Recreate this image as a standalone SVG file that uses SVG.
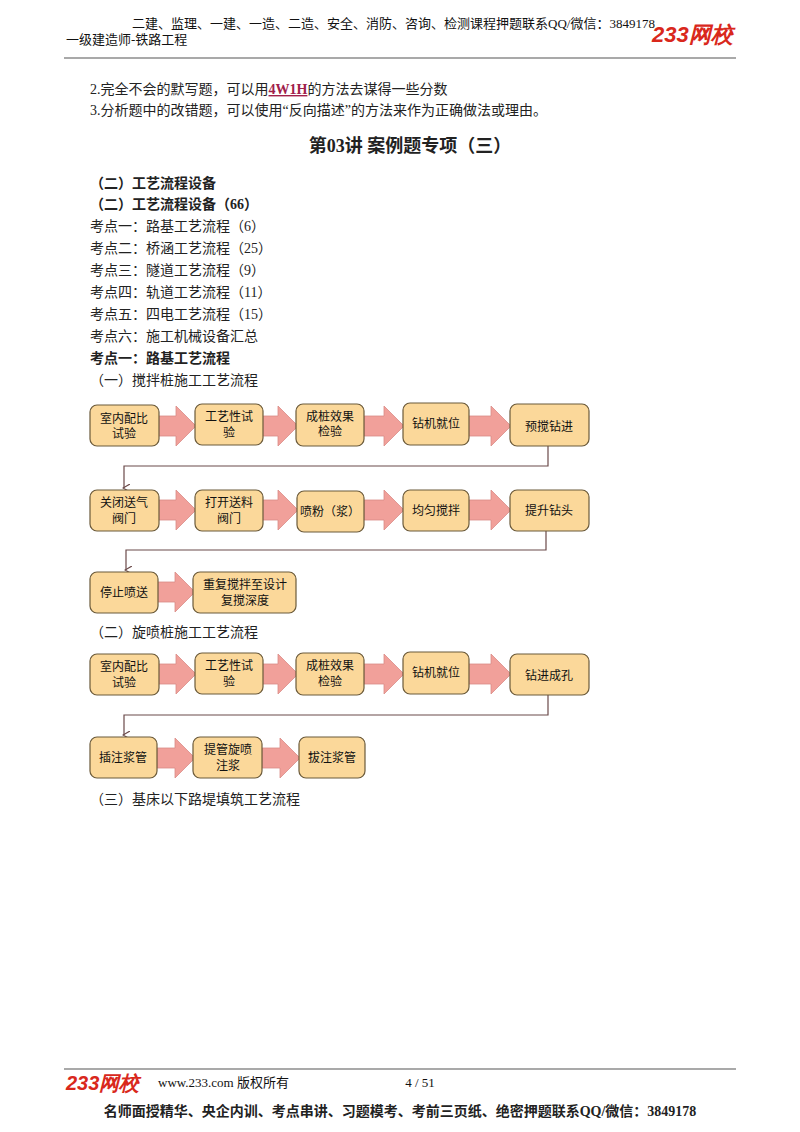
<svg xmlns="http://www.w3.org/2000/svg" width="800" height="1132" viewBox="0 0 800 1132">
<style>
.t{font-family:"Liberation Serif","Noto Sans CJK SC",serif;font-size:14px;fill:#222}
.h{font-family:"Liberation Serif","Noto Sans CJK SC",serif;font-size:13px;fill:#111}
.b{font-weight:bold}
.box{fill:#fbd89a;stroke:#6b5a3a;stroke-width:1.2}
.bt{font-family:"Liberation Sans","Noto Sans CJK SC",sans-serif;font-size:12px;fill:#111;text-anchor:middle}
.ar{fill:#f1a09a;stroke:#d98c86;stroke-width:0.8}
.cn{fill:none;stroke:#6b4a4a;stroke-width:1.2}
</style>
<defs>
<marker id="m" markerWidth="8" markerHeight="8" refX="4" refY="6" orient="auto" markerUnits="userSpaceOnUse"><path d="M0,0 L4,7 L8,0" fill="none" stroke="#6b4a4a" stroke-width="1.2"/></marker>
</defs>
<rect width="800" height="1132" fill="#fff"/>
<text x="132" y="28" class="h">二建、监理、一建、一造、二造、安全、消防、咨询、检测课程押题联系QQ/微信：3849178</text>
<text x="66" y="44" class="h">一级建造师-铁路工程</text>
<text x="652" y="42" font-family="Liberation Sans,sans-serif" font-size="22" font-weight="bold" font-style="italic" fill="#d9281c">233网校</text>
<line x1="64" y1="58" x2="736" y2="58" stroke="#555" stroke-width="1.2"/>
<text x="90" y="94" class="t">2.完全不会的默写题，可以用<tspan fill="#a0204a" text-decoration="underline" font-weight="bold">4W1H</tspan>的方法去谋得一些分数</text>
<text x="90" y="115" class="t">3.分析题中的改错题，可以使用“反向描述”的方法来作为正确做法或理由。</text>
<text x="410" y="152" class="t b" style="font-size:18px" text-anchor="middle">第03讲 案例题专项（三）</text>
<text x="90" y="188" class="t b">（二）工艺流程设备</text>
<text x="90" y="209" class="t b">（二）工艺流程设备（66）</text>
<text x="90" y="231" class="t">考点一：路基工艺流程（6）</text>
<text x="90" y="253" class="t">考点二：桥涵工艺流程（25）</text>
<text x="90" y="275" class="t">考点三：隧道工艺流程（9）</text>
<text x="90" y="297" class="t">考点四：轨道工艺流程（11）</text>
<text x="90" y="319" class="t">考点五：四电工艺流程（15）</text>
<text x="90" y="341" class="t">考点六：施工机械设备汇总</text>
<text x="90" y="363" class="t b">考点一：路基工艺流程</text>
<text x="90" y="385" class="t">（一）搅拌桩施工工艺流程</text>
<g id="connectors">
<path class="ar" d="M158,416 H176 V406 L196,426 L176,446 V436 H158 Z"/>
<path class="ar" d="M262,416 H278 V406 L298,426 L278,446 V436 H262 Z"/>
<path class="ar" d="M364,416 H384 V406 L404,426 L384,446 V436 H364 Z"/>
<path class="ar" d="M468,416 H491 V406 L511,426 L491,446 V436 H468 Z"/>
<path class="cn" d="M548,446 V466 H124 V488" marker-end="url(#m)"/>
<path class="ar" d="M158,500 H176 V490 L196,510 L176,530 V520 H158 Z"/>
<path class="ar" d="M262,500 H278 V490 L298,510 L278,530 V520 H262 Z"/>
<path class="ar" d="M364,500 H384 V490 L404,510 L384,530 V520 H364 Z"/>
<path class="ar" d="M468,500 H491 V490 L511,510 L491,530 V520 H468 Z"/>
<path class="cn" d="M546,531 V550 H126 V570" marker-end="url(#m)"/>
<path class="ar" d="M157,582 H175 V572 L195,592 L175,612 V602 H157 Z"/>
<path class="ar" d="M158,664 H176 V654 L196,674 L176,694 V684 H158 Z"/>
<path class="ar" d="M262,664 H278 V654 L298,674 L278,694 V684 H262 Z"/>
<path class="ar" d="M364,664 H384 V654 L404,674 L384,694 V684 H364 Z"/>
<path class="ar" d="M468,664 H491 V654 L511,674 L491,694 V684 H468 Z"/>
<path class="cn" d="M548,695 V715 H124 V735" marker-end="url(#m)"/>
<path class="ar" d="M157,748 H175 V738 L195,758 L175,778 V768 H157 Z"/>
<path class="ar" d="M262,748 H280 V738 L300,758 L280,778 V768 H262 Z"/>
</g>
<g id="n1"><rect class="box" x="90" y="405" width="69" height="41" rx="7"/><text class="bt" x="124" y="423">室内配比</text><text class="bt" x="124" y="438">试验</text></g>
<g id="n2"><rect class="box" x="195" y="404" width="68" height="41" rx="7"/><text class="bt" x="229" y="421">工艺性试</text><text class="bt" x="229" y="437">验</text></g>
<g id="n3"><rect class="box" x="296" y="404" width="68" height="42" rx="7"/><text class="bt" x="330" y="421">成桩效果</text><text class="bt" x="330" y="436">检验</text></g>
<g id="n4"><rect class="box" x="403" y="403" width="66" height="42" rx="7"/><text class="bt" x="436" y="428">钻机就位</text></g>
<g id="n5"><rect class="box" x="510" y="404" width="79" height="42" rx="7"/><text class="bt" x="549" y="431">预搅钻进</text></g>
<g id="n6"><rect class="box" x="90" y="490" width="69" height="41" rx="7"/><text class="bt" x="124" y="507">关闭送气</text><text class="bt" x="124" y="523">阀门</text></g>
<g id="n7"><rect class="box" x="195" y="490" width="68" height="41" rx="7"/><text class="bt" x="229" y="507">打开送料</text><text class="bt" x="229" y="523">阀门</text></g>
<g id="n8"><rect class="box" x="297" y="491" width="67" height="41" rx="7"/><text class="bt" x="330" y="516">喷粉（浆）</text></g>
<g id="n9"><rect class="box" x="403" y="490" width="66" height="41" rx="7"/><text class="bt" x="436" y="515">均匀搅拌</text></g>
<g id="n10"><rect class="box" x="510" y="490" width="79" height="41" rx="7"/><text class="bt" x="549" y="515">提升钻头</text></g>
<g id="n11"><rect class="box" x="90" y="572" width="68" height="41" rx="7"/><text class="bt" x="124" y="597">停止喷送</text></g>
<g id="n12"><rect class="box" x="193" y="572" width="103" height="41" rx="7"/><text class="bt" x="245" y="589">重复搅拌至设计</text><text class="bt" x="245" y="605">复搅深度</text></g>
<text x="90" y="637" class="t">（二）旋喷桩施工工艺流程</text>
<g id="n13"><rect class="box" x="90" y="654" width="69" height="41" rx="7"/><text class="bt" x="124" y="671">室内配比</text><text class="bt" x="124" y="687">试验</text></g>
<g id="n14"><rect class="box" x="195" y="653" width="68" height="41" rx="7"/><text class="bt" x="229" y="670">工艺性试</text><text class="bt" x="229" y="686">验</text></g>
<g id="n15"><rect class="box" x="296" y="653" width="68" height="42" rx="7"/><text class="bt" x="330" y="670">成桩效果</text><text class="bt" x="330" y="686">检验</text></g>
<g id="n16"><rect class="box" x="403" y="652" width="66" height="42" rx="7"/><text class="bt" x="436" y="677">钻机就位</text></g>
<g id="n17"><rect class="box" x="510" y="654" width="79" height="41" rx="7"/><text class="bt" x="549" y="680">钻进成孔</text></g>
<g id="n18"><rect class="box" x="90" y="737" width="67" height="41" rx="7"/><text class="bt" x="123" y="762">插注浆管</text></g>
<g id="n19"><rect class="box" x="193" y="737" width="69" height="41" rx="7"/><text class="bt" x="228" y="754">提管旋喷</text><text class="bt" x="228" y="770">注浆</text></g>
<g id="n20"><rect class="box" x="299" y="737" width="66" height="41" rx="7"/><text class="bt" x="332" y="762">拔注浆管</text></g>
<text x="90" y="804" class="t">（三）基床以下路堤填筑工艺流程</text>
<line x1="64" y1="1069" x2="736" y2="1069" stroke="#555" stroke-width="1.2"/>
<text x="66" y="1090" font-family="Liberation Sans,sans-serif" font-size="20" font-weight="bold" font-style="italic" fill="#d9281c">233网校</text>
<text x="158" y="1087" class="h">www.233.com 版权所有</text>
<text x="420" y="1087" class="h" text-anchor="middle" fill="#444">4 / 51</text>
<text x="400" y="1116" class="t b" text-anchor="middle">名师面授精华、央企内训、考点串讲、习题模考、考前三页纸、绝密押题联系QQ/微信：3849178</text>
</svg>
